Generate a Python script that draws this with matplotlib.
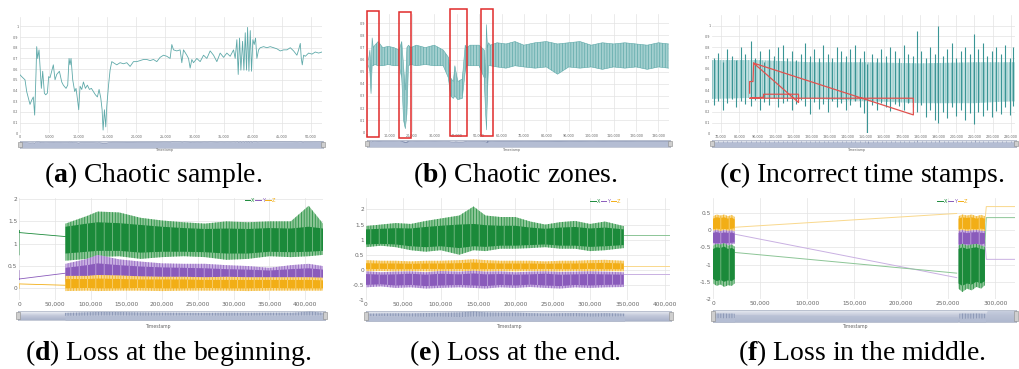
import numpy as np
import matplotlib
matplotlib.use("Agg")
import matplotlib.pyplot as plt
from matplotlib.colors import LinearSegmentedColormap
from matplotlib.ticker import FuncFormatter
from matplotlib.patches import Rectangle
from matplotlib.lines import Line2D

plt.rcParams.update({
    "mathtext.fontset": "custom",
    "mathtext.rm": "Liberation Serif",
    "mathtext.bf": "Liberation Serif:bold",
    "hatch.linewidth": 0.5,
})

# ---------------- data ----------------
# (a) chaotic sample
a_x = [0, 290, 860, 1150, 1430, 1720, 2010, 2290, 2520, 2750,
       2870, 3040, 3270, 3440, 3670, 3900, 4190, 4420, 4700, 4930,
       5160, 5450, 5730, 6020, 6310, 6770, 7170, 7450, 7910, 8200,
       8430, 8600, 8770, 9060, 9400, 9630, 9920, 10090, 10320, 10610,
       10900, 11240, 11580, 11930, 12270, 12620, 12960, 13300, 13590, 13880,
       14110, 14280, 14510, 14740, 14910, 15200, 15480, 15770, 16060, 16630,
       17200, 17780, 18350, 18920, 19500, 20070, 20640, 21220, 21790, 22360,
       22940, 23510, 24080, 24660, 25230, 25800, 26090, 26380, 26950, 27520,
       27810, 28100, 28670, 28960, 29240, 29530, 29820, 30390, 30960, 31540,
       32110, 32680, 33260, 33830, 34400, 34980, 35550, 36120, 36700, 36980,
       37270, 37500, 37730, 37960, 38250, 38480, 38710, 38930, 39110, 39340,
       39570, 39790, 40020, 40250, 40480, 40710, 41000, 41290, 41860, 42430,
       43010, 43580, 44150, 44730, 45300, 45870, 46450, 47020, 47590, 47880,
       48170, 48340, 48510, 48740, 49030, 49600, 50170, 50750, 51320, 51890]
a_y = [0.547, 0.53, 0.50, 0.39, 0.33, 0.27, 0.31, 0.34, 0.17, 0.56,
       0.81, 0.70, 0.78, 0.625, 0.42, 0.58, 0.375, 0.36, 0.375, 0.53,
       0.52, 0.58, 0.64, 0.50, 0.55, 0.58, 0.48, 0.45, 0.42, 0.45,
       0.70, 0.64, 0.70, 0.50, 0.39, 0.42, 0.30, 0.22, 0.44, 0.41,
       0.48, 0.42, 0.45, 0.41, 0.42, 0.39, 0.36, 0.34, 0.41, 0.33,
       0.22, 0.03, 0.22, 0.06, 0.25, 0.44, 0.59, 0.67, 0.66, 0.64,
       0.66, 0.65, 0.66, 0.625, 0.67, 0.67, 0.68, 0.69, 0.69, 0.68,
       0.69, 0.67, 0.71, 0.73, 0.72, 0.70, 0.83, 0.78, 0.77, 0.78,
       0.66, 0.78, 0.73, 0.70, 0.61, 0.69, 0.66, 0.70, 0.67, 0.73,
       0.70, 0.77, 0.73, 0.67, 0.75, 0.71, 0.75, 0.72, 0.78, 0.70,
       0.875, 0.55, 0.89, 0.59, 0.86, 0.59, 0.94, 0.59, 0.99, 0.58,
       0.96, 0.58, 0.875, 0.83, 0.89, 0.70, 0.78, 0.80, 0.81, 0.80,
       0.81, 0.80, 0.79, 0.77, 0.78, 0.78, 0.80, 0.77, 0.73, 0.78,
       0.84, 0.70, 0.64, 0.73, 0.72, 0.75, 0.74, 0.76, 0.75, 0.76]

# (b) chaotic zones: envelope of the dense signal
b_x = [700, 1300, 1800, 2300, 2800, 3500, 5000, 7000, 9500, 12000,
       14300, 15500, 16300, 17100, 17800, 18500, 19500, 22000, 26000, 30000,
       34000, 36300, 37300, 38500, 39200, 40500, 42500, 43800, 44400, 46000,
       50000, 52300, 52800, 53300, 53700, 54200, 55000, 58000, 62000, 66000,
       70000, 75000, 80000, 85000, 90000, 95000, 100000, 105000, 110000, 115000,
       120000, 125000, 130000, 134500]
b_hi = [0.60, 0.68, 0.50, 0.78, 0.70, 0.72, 0.75, 0.70, 0.71, 0.70,
        0.68, 0.75, 0.55, 0.35, 0.70, 0.72, 0.70, 0.72, 0.70, 0.72,
        0.68, 0.62, 0.45, 0.42, 0.55, 0.42, 0.44, 0.72, 0.70, 0.72,
        0.72, 0.68, 0.45, 0.89, 0.70, 0.74, 0.72, 0.74, 0.73, 0.75,
        0.72, 0.74, 0.75, 0.73, 0.74, 0.75, 0.72, 0.74, 0.73, 0.74,
        0.73, 0.72, 0.74, 0.73]
b_lo = [0.55, 0.50, 0.32, 0.55, 0.55, 0.56, 0.55, 0.55, 0.56, 0.55,
        0.55, 0.45, 0.10, 0.03, 0.15, 0.55, 0.56, 0.55, 0.56, 0.55,
        0.55, 0.45, 0.30, 0.28, 0.30, 0.27, 0.28, 0.50, 0.55, 0.55,
        0.55, 0.45, 0.20, 0.02, 0.30, 0.55, 0.55, 0.54, 0.53, 0.55,
        0.54, 0.53, 0.54, 0.48, 0.54, 0.53, 0.54, 0.52, 0.54, 0.53,
        0.54, 0.52, 0.54, 0.53]
b_box_x0 = [150, 14400, 37150, 50970]
b_box_x1 = [5200, 19470, 44430, 56020]
b_box_y0 = [-0.041, -0.05, -0.03, -0.03]
b_box_y1 = [1.003, 0.997, 1.016, 1.016]

# (c) incorrect time stamps: spikes over a light band
c_x = [66000, 68500, 71000, 73500, 76000, 78500, 81000, 83500, 86700, 89000,
       91500, 94000, 96500, 99000, 101500, 104000, 106500, 109000, 111500, 114000,
       116500, 119000, 121500, 124000, 126500, 129000, 131500, 134000, 136500, 139000,
       141500, 144000, 146500, 149000, 150900, 153500, 156000, 158500, 161000, 163500,
       166000, 168500, 171000, 173500, 176000, 178000, 180500, 183000, 185500, 188000,
       190000, 192500, 195000, 197500, 200000, 202500, 205000, 207500, 209700, 212000,
       214500, 217000, 219500, 222000, 224500, 227000, 229500, 231500]
c_hi = [0.70, 0.75, 0.66, 0.78, 0.72, 0.68, 0.80, 0.74, 0.86, 0.70,
        0.76, 0.66, 0.78, 0.72, 0.80, 0.82, 0.70, 0.76, 0.68, 0.74,
        0.84, 0.72, 0.78, 0.70, 0.82, 0.74, 0.70, 0.80, 0.76, 0.72,
        0.78, 0.82, 0.70, 0.76, 0.64, 0.74, 0.70, 0.78, 0.72, 0.80,
        0.76, 0.70, 0.82, 0.74, 0.72, 0.95, 0.76, 0.70, 0.80, 0.74,
        1.00, 0.72, 0.78, 0.84, 0.70, 0.76, 0.80, 0.74, 0.92, 0.78,
        0.84, 0.72, 0.76, 0.80, 0.74, 0.82, 0.70, 0.80]
c_lo = [0.26, 0.30, 0.22, 0.28, 0.32, 0.24, 0.30, 0.27, 0.25, 0.31,
        0.22, 0.29, 0.26, 0.33, 0.24, 0.28, 0.30, 0.22, 0.27, 0.31,
        0.25, 0.18, 0.29, 0.23, 0.27, 0.20, 0.30, 0.24, 0.28, 0.22,
        0.26, 0.30, 0.24, 0.19, 0.00, 0.26, 0.22, 0.28, 0.24, 0.21,
        0.27, 0.25, 0.22, 0.28, 0.24, 0.20, 0.26, 0.15, 0.22, 0.12,
        0.10, 0.20, 0.14, 0.24, 0.16, 0.22, 0.12, 0.19, 0.09, 0.20,
        0.16, 0.22, 0.15, 0.21, 0.18, 0.24, 0.17, 0.25]
c_band_x = [65000, 90000, 120000, 150000, 180000, 210000, 232500]
c_band_lo = [0.32, 0.33, 0.32, 0.30, 0.28, 0.28, 0.30]
c_band_hi = [0.68, 0.68, 0.66, 0.66, 0.65, 0.66, 0.66]
c_red_x = [85800, 85800, 87650, 88000, 112800, 112800, 93500, 93500, 85800, 176250, 176250, 88000]
c_red_y = [0.373, 0.481, 0.481, 0.652, 0.286, 0.363, 0.363, 0.335, 0.326, 0.326, 0.171, 0.652]

# (d) loss at the beginning
d_x = [65000, 95000, 110000, 140000, 170000, 200000, 230000, 260000, 290000, 320000, 350000, 380000, 405000, 425000]
d_X_hi = [1.45, 1.62, 1.72, 1.70, 1.58, 1.52, 1.48, 1.45, 1.50, 1.48, 1.50, 1.50, 1.85, 1.45]
d_X_lo = [0.62, 0.66, 0.70, 0.72, 0.66, 0.70, 0.72, 0.70, 0.64, 0.66, 0.72, 0.70, 0.72, 0.75]
d_X_chi = [1.38, 1.45, 1.48, 1.46, 1.42, 1.38, 1.35, 1.33, 1.34, 1.33, 1.35, 1.34, 1.38, 1.34]
d_X_clo = [0.78, 0.82, 0.84, 0.84, 0.80, 0.82, 0.82, 0.81, 0.78, 0.78, 0.82, 0.81, 0.82, 0.84]
d_Y_hi = [0.55, 0.66, 0.75, 0.65, 0.60, 0.56, 0.55, 0.55, 0.52, 0.50, 0.46, 0.52, 0.55, 0.50]
d_Y_lo = [0.15, 0.15, 0.15, 0.15, 0.15, 0.15, 0.14, 0.13, 0.13, 0.14, 0.15, 0.15, 0.15, 0.15]
d_Y_chi = [0.46, 0.52, 0.56, 0.52, 0.49, 0.47, 0.46, 0.45, 0.43, 0.42, 0.40, 0.43, 0.45, 0.42]
d_Y_clo = [0.20, 0.21, 0.21, 0.21, 0.20, 0.20, 0.19, 0.18, 0.18, 0.19, 0.20, 0.19, 0.20, 0.19]
d_Z_hi = [0.28, 0.28, 0.30, 0.29, 0.27, 0.26, 0.26, 0.25, 0.26, 0.25, 0.25, 0.25, 0.25, 0.24]
d_Z_lo = [-0.06, -0.05, -0.06, -0.05, -0.05, -0.06, -0.05, -0.05, -0.05, -0.06, -0.05, -0.05, -0.05, -0.05]
d_Z_chi = [0.21, 0.21, 0.22, 0.21, 0.20, 0.20, 0.20, 0.19, 0.19, 0.19, 0.19, 0.19, 0.19, 0.18]
d_Z_clo = [0.00, 0.01, 0.00, 0.00, 0.01, 0.00, 0.00, 0.01, 0.00, 0.00, 0.01, 0.00, 0.00, 0.00]
d_X_lead_x, d_X_lead = [0, 0, 0, 65000], [0.75, 1.30, 1.25, 1.16]
d_Y_lead_x, d_Y_lead = [0, 0, 0, 65000], [0.40, 0.20, 0.21, 0.34]
d_Z_lead_x, d_Z_lead = [0, 0, 65000], [0.00, 0.10, 0.07]

# (e) loss at the end
e_x = [0, 20000, 40000, 60000, 80000, 100000, 125000, 144000, 160000, 180000,
       200000, 220000, 240000, 260000, 280000, 300000, 320000, 345000]
e_X_hi = [1.45, 1.50, 1.55, 1.52, 1.62, 1.70, 1.80, 2.10, 1.80, 1.75, 1.75, 1.60, 1.50, 1.58, 1.62, 1.52, 1.60, 1.45]
e_X_lo = [0.75, 0.80, 0.75, 0.65, 0.60, 0.65, 0.50, 0.65, 0.62, 0.70, 0.70, 0.72, 0.75, 0.70, 0.70, 0.62, 0.65, 0.72]
e_X_chi = [1.34, 1.36, 1.38, 1.37, 1.42, 1.46, 1.50, 1.52, 1.48, 1.46, 1.46, 1.40, 1.36, 1.40, 1.42, 1.37, 1.40, 1.34]
e_X_clo = [0.84, 0.86, 0.84, 0.78, 0.75, 0.78, 0.72, 0.78, 0.76, 0.80, 0.80, 0.82, 0.84, 0.80, 0.80, 0.76, 0.78, 0.82]
e_Z_hi = [0.32, 0.30, 0.30, 0.28, 0.30, 0.30, 0.32, 0.35, 0.32, 0.30, 0.30, 0.30, 0.28, 0.30, 0.30, 0.32, 0.33, 0.30]
e_Z_lo = [-0.05, -0.04, -0.05, -0.04, -0.05, -0.05, -0.04, -0.05, -0.05, -0.04, -0.05, -0.04, -0.05, -0.05, -0.04, -0.05, -0.04, -0.05]
e_Z_chi = [0.22, 0.21, 0.21, 0.20, 0.21, 0.21, 0.22, 0.24, 0.22, 0.21, 0.21, 0.21, 0.20, 0.21, 0.21, 0.22, 0.23, 0.21]
e_Z_clo = [0.02, 0.03, 0.02, 0.02, 0.03, 0.02, 0.03, 0.02, 0.02, 0.03, 0.02, 0.02, 0.03, 0.02, 0.02, 0.03, 0.02, 0.02]
e_Y_hi = [-0.05, -0.08, -0.06, -0.05, -0.08, -0.04, -0.06, -0.03, -0.06, -0.05, -0.08, -0.06, -0.05, -0.07, -0.06, -0.05, -0.06, -0.08]
e_Y_lo = [-0.58, -0.55, -0.60, -0.58, -0.62, -0.60, -0.58, -0.60, -0.62, -0.58, -0.60, -0.57, -0.60, -0.62, -0.58, -0.60, -0.58, -0.57]
e_Y_chi = [-0.14, -0.16, -0.15, -0.13, -0.16, -0.13, -0.15, -0.12, -0.15, -0.14, -0.16, -0.15, -0.13, -0.16, -0.15, -0.14, -0.15, -0.16]
e_Y_clo = [-0.50, -0.48, -0.52, -0.50, -0.54, -0.52, -0.50, -0.52, -0.54, -0.50, -0.52, -0.49, -0.52, -0.54, -0.50, -0.52, -0.50, -0.49]
e_tail_x = [345000, 407000]
e_X_tail, e_Y_tail, e_Z_tail = [1.16, 1.16], [-0.14, -0.14], [0.12, 0.12]

# (f) loss in the middle: two recorded blocks joined by straight lines
f_x1 = [0, 4000, 8000, 12000, 16000, 20000, 23000]
f_x2 = [261000, 265000, 270000, 275000, 280000, 285000, 289000]
f_X_hi1 = [-0.45, -0.40, -0.42, -0.38, -0.45, -0.42, -0.48]
f_X_lo1 = [-1.55, -1.62, -1.58, -1.65, -1.60, -1.62, -1.55]
f_X_chi1 = [-0.55, -0.50, -0.52, -0.48, -0.55, -0.52, -0.57]
f_X_clo1 = [-1.42, -1.48, -1.45, -1.50, -1.46, -1.48, -1.42]
f_Y_hi1 = [-0.02, 0.00, -0.03, 0.00, -0.02, -0.01, -0.04]
f_Y_lo1 = [-0.42, -0.45, -0.43, -0.45, -0.44, -0.42, -0.40]
f_Y_chi1 = [-0.08, -0.06, -0.09, -0.07, -0.08, -0.07, -0.10]
f_Y_clo1 = [-0.37, -0.39, -0.38, -0.39, -0.38, -0.37, -0.36]
f_Z_hi1 = [0.40, 0.45, 0.42, 0.45, 0.40, 0.44, 0.38]
f_Z_lo1 = [-0.05, -0.03, -0.05, -0.04, -0.05, -0.03, -0.02]
f_Z_chi1 = [0.33, 0.37, 0.35, 0.37, 0.33, 0.36, 0.31]
f_Z_clo1 = [0.02, 0.04, 0.02, 0.03, 0.02, 0.04, 0.05]
f_X_hi2 = [-0.45, -0.40, -0.45, -0.42, -0.40, -0.45, -0.48]
f_X_lo2 = [-1.70, -1.80, -1.70, -1.75, -1.65, -1.70, -1.60]
f_X_chi2 = [-0.55, -0.50, -0.55, -0.52, -0.50, -0.55, -0.57]
f_X_clo2 = [-1.55, -1.62, -1.55, -1.58, -1.50, -1.55, -1.48]
f_Y_hi2 = [-0.02, 0.00, -0.03, -0.01, 0.00, -0.02, -0.03]
f_Y_lo2 = [-1.65, -0.50, -0.48, -0.50, -0.47, -0.50, -0.45]
f_Y_chi2 = [-0.08, -0.06, -0.09, -0.07, -0.06, -0.08, -0.09]
f_Y_clo2 = [-0.42, -0.42, -0.41, -0.43, -0.40, -0.42, -0.39]
f_Z_hi2 = [0.40, 0.45, 0.42, 0.45, 0.40, 0.44, 0.40]
f_Z_lo2 = [-0.05, -0.03, -0.05, -0.04, -0.05, -0.03, -0.05]
f_Z_chi2 = [0.33, 0.37, 0.35, 0.37, 0.33, 0.36, 0.33]
f_Z_clo2 = [0.02, 0.04, 0.02, 0.03, 0.02, 0.04, 0.02]
f_link_x = [23000, 259000]
f_X_link, f_Y_link, f_Z_link = [-0.65, -1.25], [-0.12, -1.38], [0.08, 0.48]
f_tail_x = [289000, 290500, 321000]
f_X_tail, f_Y_tail, f_Z_tail = [-0.45, 0.36, 0.36], [-0.35, -0.85, -0.85], [0.25, 0.68, 0.68]

letters = ["a", "b", "c", "d", "e", "f"]
captions = ["Chaotic sample.", "Chaotic zones.", "Incorrect time stamps.",
            "Loss at the beginning.", "Loss at the end.", "Loss in the middle."]

# ---------------- styling ----------------
TEAL, TEAL_L, TEAL_D = "#5ea9a9", "#c4e2e2", "#3a9595"
GREEN, GREEN_L = "#1b8a3a", "#8cc596"
PURPLE, PURPLE_L = "#8a5bbb", "#c9b0e2"
ORANGE, ORANGE_L = "#f2ae16", "#f9d88c"
NAV_FILL, NAV_DATA = "#b4bdd3", "#7d8aab"
STRIPES = "||||||"

W, H = 1019, 369
fig = plt.figure(figsize=(W / 100, H / 100), dpi=100)
nav_cmap = LinearSegmentedColormap.from_list("nav", ["#f1f3f7", "#c3c9da", "#aab3ca"])


def px_axes(x0, y0, x1, y1):
    return fig.add_axes([x0 / W, 1 - y1 / H, (x1 - x0) / W, (y1 - y0) / H])


def style(ax, xlim, ylim, xticks, yticks, fs):
    ax.set_xlim(xlim)
    ax.set_ylim(ylim)
    ax.set_xticks(xticks)
    ax.set_yticks(yticks)
    ax.xaxis.set_major_formatter(FuncFormatter(lambda v, p: f"{int(round(v)):,}"))
    ax.yaxis.set_major_formatter(FuncFormatter(lambda v, p: f"{v:g}"))
    ax.tick_params(length=0, labelsize=fs, colors="#666666", pad=1.2)
    ax.grid(True, color="#e3e3e3", lw=0.5)
    ax.set_axisbelow(True)
    for s in ax.spines.values():
        s.set_visible(False)


def navigator(x0, y0, x1, y1, xlim, ylim, label_px, fs):
    nav = px_axes(x0, y0, x1, y1)
    nav.imshow(np.linspace(0, 1, 60).reshape(-1, 1), aspect="auto", cmap=nav_cmap,
               extent=(xlim[0], xlim[1], ylim[0], ylim[1]), zorder=0)
    nav.set_xlim(xlim)
    nav.set_ylim(ylim)
    nav.set_xticks([])
    nav.set_yticks([])
    for s in nav.spines.values():
        s.set_color("#9aa3b8")
        s.set_linewidth(0.4)
    for xa in (0.0, 1.0):
        nav.add_patch(Rectangle((xa - 0.005, 0.12), 0.01, 0.76, transform=nav.transAxes,
                                fc="#cfcfcf", ec="#8c8c8c", lw=0.4, clip_on=False, zorder=5))
    fig.text(label_px[0] / W, 1 - label_px[1] / H, "Timestamp", fontsize=fs,
             color="#666666", ha="center", va="center")
    return nav


def band(ax, x, lo, hi, clo, chi, c_out, c_in, z):
    # light outer envelope striped with the series colour, core striped light on solid
    ax.fill_between(x, lo, hi, facecolor=c_out, edgecolor=c_in, hatch=STRIPES, lw=0, zorder=z)
    ax.fill_between(x, clo, chi, facecolor=c_in, edgecolor=c_out, hatch="||", lw=0, zorder=z + 0.1)


def legend(ax, anchor):
    hs = [Line2D([], [], color=c, lw=0.7) for c in (GREEN, PURPLE, ORANGE)]
    ax.legend(hs, ["X", "Y", "Z"], ncol=3, fontsize=3.6, frameon=False, loc="upper left",
              bbox_to_anchor=anchor, handlelength=1.1, handletextpad=0.15,
              columnspacing=0.15, labelcolor=[GREEN, PURPLE, ORANGE], borderpad=0)


# ---------------- (a) ----------------
ax = px_axes(20, 16.7, 322, 133.3)
style(ax, (0, 51900), (0, 1.09), range(0, 50001, 5000), np.arange(0, 1.01, 0.1), 2.4)
ax.plot(a_x, a_y, color=TEAL, lw=0.6)
nav = navigator(20, 141, 323, 147.5, (0, 51900), (-1.6, 1.15), (165, 149.5), 2.3)
nav.fill_between(a_x, -1.6, a_y, color=NAV_FILL, lw=0, zorder=1)
nav.plot(a_x, a_y, color=NAV_DATA, lw=0.3, zorder=2)

# ---------------- (b) ----------------
ax = px_axes(367, 13.7, 669, 132.3)
style(ax, (0, 134700), (0, 0.98), range(0, 130001, 10000), np.arange(0, 0.91, 0.1), 2.4)
ax.fill_between(b_x, b_lo, b_hi, facecolor="#a3cfcf", edgecolor=TEAL, hatch=STRIPES, lw=0)
ax.plot(b_x, b_hi, color=TEAL, lw=0.4)
ax.plot(b_x, b_lo, color=TEAL, lw=0.4)
for x0, x1, y0, y1 in zip(b_box_x0, b_box_x1, b_box_y0, b_box_y1):
    ax.add_patch(Rectangle((x0, y0), x1 - x0, y1 - y0, fill=False, ec="#e02b2b",
                           lw=1.1, clip_on=False, zorder=6))
nav = navigator(367, 140, 670, 146.5, (0, 134700), (-1.6, 1.0), (512, 149.5), 2.3)
nav.fill_between(b_x, -1.6, b_lo, color=NAV_FILL, lw=0, zorder=1)
nav.fill_between(b_x, b_lo, b_hi, color=NAV_DATA, lw=0, zorder=2)

# ---------------- (c) ----------------
ax = px_axes(712, 14.9, 1015, 133.3)
style(ax, (65000, 232400), (0, 1.1), range(70000, 230001, 10000), np.arange(0, 1.01, 0.1), 2.4)
ax.fill_between(c_band_x, c_band_lo, c_band_hi, facecolor=TEAL_L, edgecolor="#7fbcbc",
                hatch=STRIPES, lw=0)
ax.vlines(c_x, c_lo, c_hi, color=TEAL_D, lw=0.8)
ax.plot(c_red_x, c_red_y, color="#e0524f", lw=0.9, zorder=5)
nav = navigator(712, 140, 1016, 147, (65000, 232400), (-1.8, 1.1), (857, 149.5), 2.3)
nav.fill_between(c_band_x, -1.8, c_band_lo, color=NAV_FILL, lw=0, zorder=1)
nav.vlines(c_x, c_lo, c_hi, color=NAV_DATA, lw=0.5, zorder=2)

# ---------------- (d) ----------------
ax = px_axes(19, 197.7, 323, 300)
style(ax, (0, 425000), (-0.26, 2.03), range(0, 400001, 50000), [0, 0.5, 1, 1.5, 2], 4.2)
band(ax, d_x, d_X_lo, d_X_hi, d_X_clo, d_X_chi, GREEN_L, GREEN, 2)
band(ax, d_x, d_Y_lo, d_Y_hi, d_Y_clo, d_Y_chi, PURPLE_L, PURPLE, 3)
band(ax, d_x, d_Z_lo, d_Z_hi, d_Z_clo, d_Z_chi, ORANGE_L, ORANGE, 4)
ax.plot(d_X_lead_x, d_X_lead, color=GREEN, lw=0.6)
ax.plot(d_Y_lead_x, d_Y_lead, color=PURPLE, lw=0.6)
ax.plot(d_Z_lead_x, d_Z_lead, color=ORANGE, lw=0.6)
legend(ax, (0.735, 1.025))
nav = navigator(18, 311, 325, 320, (0, 425000), (-0.6, 2.0), (158, 326.5), 3.3)
nav.fill_between(d_x, -0.6, d_X_lo, color=NAV_FILL, lw=0, zorder=1)
nav.fill_between(d_x, d_X_lo, d_X_hi, facecolor=NAV_FILL, edgecolor=NAV_DATA, hatch=STRIPES, lw=0, zorder=2)

# ---------------- (e) ----------------
ax = px_axes(366, 198.3, 670, 300)
style(ax, (0, 407000), (-1, 2.37), range(0, 400001, 50000), [-1, -0.5, 0, 0.5, 1, 1.5, 2], 4.2)
band(ax, e_x, e_X_lo, e_X_hi, e_X_clo, e_X_chi, GREEN_L, GREEN, 2)
band(ax, e_x, e_Z_lo, e_Z_hi, e_Z_clo, e_Z_chi, ORANGE_L, ORANGE, 3)
band(ax, e_x, e_Y_lo, e_Y_hi, e_Y_clo, e_Y_chi, PURPLE_L, PURPLE, 4)
ax.plot(e_tail_x, e_X_tail, color=GREEN_L, lw=0.7)
ax.plot(e_tail_x, e_Z_tail, color=ORANGE_L, lw=0.7)
ax.plot(e_tail_x, e_Y_tail, color=PURPLE_L, lw=0.7)
legend(ax, (0.73, 1.02))
nav = navigator(366, 311, 671, 321, (0, 407000), (-0.6, 2.2), (509, 326.5), 3.3)
nav.fill_between(e_x, -0.6, e_X_lo, color=NAV_FILL, lw=0, zorder=1)
nav.fill_between(e_x, e_X_lo, e_X_hi, facecolor=NAV_FILL, edgecolor=NAV_DATA, hatch=STRIPES, lw=0, zorder=2)

# ---------------- (f) ----------------
ax = px_axes(713, 198.3, 1015, 299)
style(ax, (0, 321000), (-2, 0.92), range(0, 300001, 50000), [-2, -1.5, -1, -0.5, 0, 0.5], 4.2)
for xs, parts in ((f_x1, (f_X_lo1, f_X_hi1, f_X_clo1, f_X_chi1, f_Y_lo1, f_Y_hi1, f_Y_clo1, f_Y_chi1,
                          f_Z_lo1, f_Z_hi1, f_Z_clo1, f_Z_chi1)),
                  (f_x2, (f_X_lo2, f_X_hi2, f_X_clo2, f_X_chi2, f_Y_lo2, f_Y_hi2, f_Y_clo2, f_Y_chi2,
                          f_Z_lo2, f_Z_hi2, f_Z_clo2, f_Z_chi2))):
    band(ax, xs, *parts[8:12], ORANGE_L, ORANGE, 2)
    band(ax, xs, *parts[4:8], PURPLE_L, PURPLE, 3)
    band(ax, xs, *parts[0:4], GREEN_L, GREEN, 4)
ax.plot(f_link_x, f_Z_link, color=ORANGE_L, lw=0.7)
ax.plot(f_link_x, f_Y_link, color=PURPLE_L, lw=0.7)
ax.plot(f_link_x, f_X_link, color=GREEN_L, lw=0.7)
ax.plot(f_tail_x, f_Z_tail, color=ORANGE_L, lw=0.7)
ax.plot(f_tail_x, f_Y_tail, color=PURPLE_L, lw=0.7)
ax.plot(f_tail_x, f_X_tail, color=GREEN_L, lw=0.7)
legend(ax, (0.735, 1.02))
nav = navigator(713, 310, 1016, 322, (0, 321000), (-2.6, 0.5), (855, 326.5), 3.3)
for xs, lo, hi in ((f_x1, f_X_lo1, f_X_hi1), (f_x2, f_X_lo2, f_X_hi2)):
    nav.fill_between(xs, -2.6, lo, color=NAV_FILL, lw=0, zorder=1)
    nav.fill_between(xs, lo, hi, facecolor=NAV_FILL, edgecolor=NAV_DATA, hatch=STRIPES, lw=0, zorder=2)
nav.fill_between(f_link_x, -2.6, f_X_link, color=NAV_FILL, lw=0, alpha=0.6, zorder=1)
nav.fill_between(f_tail_x, -2.6, f_X_tail, color=NAV_FILL, lw=0, alpha=0.6, zorder=1)

# ---------------- captions ----------------
cap_x = [153, 515, 862, 168, 515, 862]
cap_base = [182, 182, 182, 360, 360, 360]
for l, c, x, y in zip(letters, captions, cap_x, cap_base):
    fig.text(x / W, 1 - y / H, rf"($\mathbf{{{l}}}$) {c}", ha="center", va="baseline",
             fontsize=20, family="Liberation Serif")

fig.savefig("out.png", dpi=100)
